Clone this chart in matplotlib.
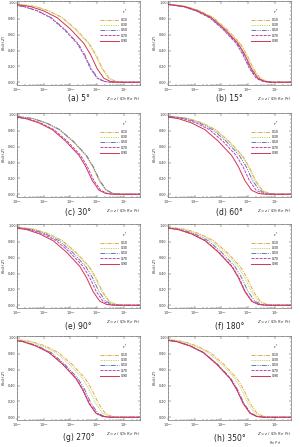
import numpy as np
import matplotlib
matplotlib.use("Agg")
import matplotlib.pyplot as plt
from matplotlib.ticker import LogLocator, MultipleLocator, NullFormatter

# r* values and styles of the five curves
R_STAR = ["0.10", "0.30", "0.50", "0.70", "0.90"]
COLORS = ["#e3a93c", "#c5d36a", "#6d72a8", "#b146c4", "#d6324e"]
STYLES = [(0, (4, 1.2, 1, 1.2)), (0, (1, 0.8)), (0, (5, 1.2, 1, 1.2, 1, 1.2)),
          (0, (3, 1.2)), "-"]

# bulk temperature levels, and log10(Z) where each curve crosses them
THETA = [0.99, 0.978, 0.955, 0.90, 0.815, 0.67, 0.49, 0.35, 0.17, 0.05, 0.01, 0.0, 0.0]

LOGZ_A = [[-4.30, -3.80, -3.30, -2.80, -2.30, -1.80, -1.30, -1.05, -0.80, -0.55, -0.30, -0.05, 1],
          [-4.33, -3.83, -3.33, -2.83, -2.33, -1.83, -1.33, -1.08, -0.83, -0.58, -0.33, -0.08, 1],
          [-4.72, -4.22, -3.72, -3.22, -2.72, -2.22, -1.72, -1.47, -1.22, -0.97, -0.72, -0.47, 1],
          [-4.75, -4.25, -3.75, -3.25, -2.75, -2.25, -1.75, -1.50, -1.25, -1.00, -0.75, -0.50, 1],
          [-4.50, -4.00, -3.50, -3.00, -2.50, -2.00, -1.50, -1.25, -1.00, -0.75, -0.50, -0.25, 1]]
LOGZ_B = [[-4.30, -3.80, -3.30, -2.80, -2.30, -1.80, -1.30, -1.05, -0.80, -0.55, -0.30, -0.05, 1],
          [-4.33, -3.83, -3.33, -2.83, -2.33, -1.83, -1.33, -1.08, -0.83, -0.58, -0.33, -0.08, 1],
          [-4.42, -3.92, -3.42, -2.92, -2.42, -1.92, -1.42, -1.17, -0.92, -0.67, -0.42, -0.17, 1],
          [-4.45, -3.95, -3.45, -2.95, -2.45, -1.95, -1.45, -1.20, -0.95, -0.70, -0.45, -0.20, 1],
          [-4.38, -3.88, -3.38, -2.88, -2.38, -1.88, -1.38, -1.13, -0.88, -0.63, -0.38, -0.13, 1]]
LOGZ_C = [[-4.42, -3.92, -3.42, -2.92, -2.42, -1.92, -1.42, -1.17, -0.92, -0.67, -0.42, -0.17, 1],
          [-4.42, -3.92, -3.42, -2.92, -2.42, -1.92, -1.42, -1.17, -0.92, -0.67, -0.42, -0.17, 1],
          [-4.40, -3.90, -3.40, -2.90, -2.40, -1.90, -1.40, -1.15, -0.90, -0.65, -0.40, -0.15, 1],
          [-4.62, -4.12, -3.62, -3.12, -2.62, -2.12, -1.62, -1.37, -1.12, -0.87, -0.62, -0.37, 1],
          [-4.68, -4.18, -3.68, -3.18, -2.68, -2.18, -1.68, -1.43, -1.18, -0.93, -0.68, -0.43, 1]]
LOGZ_D = [[-4.22, -3.72, -3.22, -2.72, -2.22, -1.72, -1.22, -0.97, -0.72, -0.47, -0.22, 0.03, 1],
          [-4.25, -3.75, -3.25, -2.75, -2.25, -1.75, -1.25, -1.00, -0.75, -0.50, -0.25, 0.00, 1],
          [-4.33, -3.83, -3.33, -2.83, -2.33, -1.83, -1.33, -1.08, -0.83, -0.58, -0.33, -0.08, 1],
          [-4.45, -3.95, -3.45, -2.95, -2.45, -1.95, -1.45, -1.20, -0.95, -0.70, -0.45, -0.20, 1],
          [-4.62, -4.12, -3.62, -3.12, -2.62, -2.12, -1.62, -1.37, -1.12, -0.87, -0.62, -0.37, 1]]
LOGZ_E = [[-4.30, -3.80, -3.30, -2.80, -2.30, -1.80, -1.30, -1.05, -0.80, -0.55, -0.30, -0.05, 1],
          [-4.33, -3.83, -3.33, -2.83, -2.33, -1.83, -1.33, -1.08, -0.83, -0.58, -0.33, -0.08, 1],
          [-4.43, -3.93, -3.43, -2.93, -2.43, -1.93, -1.43, -1.18, -0.93, -0.68, -0.43, -0.18, 1],
          [-4.53, -4.03, -3.53, -3.03, -2.53, -2.03, -1.53, -1.28, -1.03, -0.78, -0.53, -0.28, 1],
          [-4.65, -4.15, -3.65, -3.15, -2.65, -2.15, -1.65, -1.40, -1.15, -0.90, -0.65, -0.40, 1]]
LOGZ_F = [[-4.30, -3.80, -3.30, -2.80, -2.30, -1.80, -1.30, -1.05, -0.80, -0.55, -0.30, -0.05, 1],
          [-4.38, -3.88, -3.38, -2.88, -2.38, -1.88, -1.38, -1.13, -0.88, -0.63, -0.38, -0.13, 1],
          [-4.50, -4.00, -3.50, -3.00, -2.50, -2.00, -1.50, -1.25, -1.00, -0.75, -0.50, -0.25, 1],
          [-4.60, -4.10, -3.60, -3.10, -2.60, -2.10, -1.60, -1.35, -1.10, -0.85, -0.60, -0.35, 1],
          [-4.62, -4.12, -3.62, -3.12, -2.62, -2.12, -1.62, -1.37, -1.12, -0.87, -0.62, -0.37, 1]]
LOGZ_G = [[-4.45, -3.95, -3.45, -2.95, -2.45, -1.95, -1.45, -1.20, -0.95, -0.70, -0.45, -0.20, 1],
          [-4.55, -4.05, -3.55, -3.05, -2.55, -2.05, -1.55, -1.30, -1.05, -0.80, -0.55, -0.30, 1],
          [-4.72, -4.22, -3.72, -3.22, -2.72, -2.22, -1.72, -1.47, -1.22, -0.97, -0.72, -0.47, 1],
          [-4.78, -4.28, -3.78, -3.28, -2.78, -2.28, -1.78, -1.53, -1.28, -1.03, -0.78, -0.53, 1],
          [-4.80, -4.30, -3.80, -3.30, -2.80, -2.30, -1.80, -1.55, -1.30, -1.05, -0.80, -0.55, 1]]
LOGZ_H = [[-4.42, -3.92, -3.42, -2.92, -2.42, -1.92, -1.42, -1.17, -0.92, -0.67, -0.42, -0.17, 1],
          [-4.50, -4.00, -3.50, -3.00, -2.50, -2.00, -1.50, -1.25, -1.00, -0.75, -0.50, -0.25, 1],
          [-4.65, -4.15, -3.65, -3.15, -2.65, -2.15, -1.65, -1.40, -1.15, -0.90, -0.65, -0.40, 1],
          [-4.68, -4.18, -3.68, -3.18, -2.68, -2.18, -1.68, -1.43, -1.18, -0.93, -0.68, -0.43, 1],
          [-4.68, -4.18, -3.68, -3.18, -2.68, -2.18, -1.68, -1.43, -1.18, -0.93, -0.68, -0.43, 1]]

CAPTIONS = ["(a) 5°", "(b) 15°", "(c) 30°", "(d) 60°",
            "(e) 90°", "(f) 180°", "(g) 270°", "(h) 350°"]
DATA = [LOGZ_A, LOGZ_B, LOGZ_C, LOGZ_D, LOGZ_E, LOGZ_F, LOGZ_G, LOGZ_H]

fig = plt.figure(figsize=(3.0, 4.47), dpi=100)
lefts = [17 / 300, 168 / 300]
bottoms = [1 - 85 / 447, 1 - 197 / 447, 1 - 308 / 447, 1 - 420 / 447]
w, h = 123 / 300, 84 / 447
cap_y = [99, 212, 326, 438]

for i, (cap, logz) in enumerate(zip(CAPTIONS, DATA)):
    r, c = divmod(i, 2)
    ax = fig.add_axes([lefts[c], bottoms[r], w, h])
    for k in range(5):
        ax.plot(10 ** np.array(logz[k]), THETA, color=COLORS[k], ls=STYLES[k],
                lw=0.7, label=R_STAR[k])
    ax.set_xscale("log")
    ax.set_xlim(1e-4, 4)
    ax.set_ylim(-0.035, 1.025)
    ax.yaxis.set_major_locator(MultipleLocator(0.2))
    ax.yaxis.set_minor_locator(MultipleLocator(0.05))
    ax.set_yticklabels([f"{v:.2f}" for v in ax.get_yticks()])
    ax.xaxis.set_major_locator(LogLocator(base=10, numticks=10))
    ax.xaxis.set_minor_locator(LogLocator(base=10, subs=np.arange(2, 10), numticks=10))
    ax.xaxis.set_minor_formatter(NullFormatter())
    ax.tick_params(which="both", direction="in", top=True, right=True,
                   labelsize=2.4, pad=1.0, width=0.3, colors="#333333")
    ax.tick_params(which="major", length=1.8)
    ax.tick_params(which="minor", length=1.0)
    for s in ax.spines.values():
        s.set_linewidth(0.4)
        s.set_color("#555555")
    ax.set_ylabel(r"$\theta_{bulk}\,(Z)$", fontsize=2.8, color="#333333")
    ax.yaxis.set_label_coords(-0.075, 0.5)
    ax.text(1.0, -0.125, r"$Z = z\ /\ (D_h\ Re\ Pr)$", transform=ax.transAxes,
            ha="right", va="top", fontsize=2.8, color="#333333")
    ax.legend(loc="upper right", bbox_to_anchor=(0.92, 0.95), frameon=False,
              fontsize=2.2, title=r"$r^*$", title_fontsize=2.6,
              handlelength=6, labelspacing=0.35, handletextpad=0.6,
              alignment="right")
    xc = lefts[c] + w / 2
    fig.text(xc, 1 - cap_y[r] / 447, cap, ha="center", va="center",
             fontsize=5.5, color="#222222")

fig.text(275 / 300, 1 - 442 / 447, r"$Re\ Pr)$", ha="center", va="center",
         fontsize=2.6, color="#444444")

fig.savefig("out.png", dpi=100)
